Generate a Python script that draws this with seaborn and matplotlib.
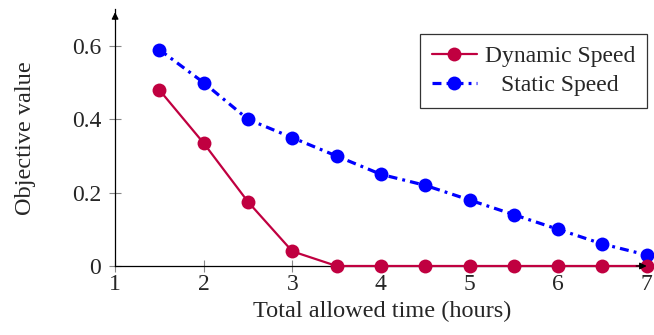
import matplotlib
matplotlib.use("Agg")
import matplotlib.pyplot as plt
import pandas as pd
import seaborn as sns
from matplotlib.offsetbox import DrawingArea

# data
time_hours = [1.5, 2.0, 2.5, 3.0, 3.5, 4.0, 4.5, 5.0, 5.5, 6.0, 6.5, 7.0]
dynamic_speed = [0.48, 0.335, 0.175, 0.04, 0, 0, 0, 0, 0, 0, 0, 0]
static_speed = [0.59, 0.50, 0.40, 0.35, 0.30, 0.25, 0.22, 0.18, 0.14, 0.10, 0.06, 0.03]
x_ticks = [1, 2, 3, 4, 5, 6, 7]
y_ticks = [0, 0.2, 0.4, 0.6]
y_tick_labels = ["0", "0.2", "0.4", "0.6"]

sns.set_style("white")
plt.rcParams["font.family"] = ["Liberation Serif", "DejaVu Serif"]
plt.rcParams["font.size"] = 17

df = pd.DataFrame({"time": time_hours, "dynamic": dynamic_speed, "static": static_speed})

fig = plt.figure(figsize=(6.54, 3.35), dpi=100)
ax = fig.add_axes([0.176, 0.206, 0.817, 0.766])

sns.lineplot(data=df, x="time", y="dynamic", ax=ax, color="#C00040", marker="o",
             markersize=10, markeredgewidth=0, linewidth=1.6, label="Dynamic Speed",
             clip_on=False, zorder=3)
sns.lineplot(data=df, x="time", y="static", ax=ax, color="#0000FF", marker="o",
             markersize=10, markeredgewidth=0, linewidth=2.3,
             linestyle=(0, (2.8, 1.6, 0.9, 1.6)),
             label="Static Speed", clip_on=False, zorder=2)

ax.set_xlim(1, 7.03)
ax.set_ylim(0, 0.70)
ax.set_xticks(x_ticks)
ax.set_yticks(y_ticks)
ax.set_yticklabels(y_tick_labels)
ax.tick_params(bottom=True, left=True, direction="inout", length=8, width=0.8,
               color="#888888", labelsize=17)
ax.tick_params(axis="x", pad=2)
ax.tick_params(axis="y", pad=6)

for side in ["top", "right"]:
    ax.spines[side].set_visible(False)
for side in ["left", "bottom"]:
    ax.spines[side].set_linewidth(0.9)
    ax.spines[side].set_color("black")

# arrow heads at axis ends
ax.annotate("", xy=(1.0, 0), xytext=(0.97, 0), xycoords="axes fraction",
            arrowprops=dict(arrowstyle="-|>", color="black", lw=0.9,
                            mutation_scale=10), annotation_clip=False)
ax.annotate("", xy=(0, 1.0), xytext=(0, 0.95), xycoords="axes fraction",
            arrowprops=dict(arrowstyle="-|>", color="black", lw=0.9,
                            mutation_scale=10), annotation_clip=False)

ax.set_xlabel("Total allowed time (hours)", fontsize=17.5, labelpad=4)
ax.set_ylabel("Objective value", fontsize=17.5, labelpad=26)

text_pad = 0.35
leg = ax.legend(loc="upper right", bbox_to_anchor=(0.996, 0.904), frameon=True,
                fancybox=False, edgecolor="black", fontsize=17, handlelength=1.9,
                handletextpad=text_pad, borderpad=0.5, borderaxespad=0,
                labelspacing=0.3)
leg.get_frame().set_linewidth(0.9)

# centre the legend labels in their column, like pgfplots does
renderer = fig.canvas.get_renderer()
widths = [t.get_window_extent(renderer).width * 72 / fig.dpi for t in leg.get_texts()]
sep = text_pad * 17
column = leg._legend_handle_box.get_children()[0]
for item, w in zip(column.get_children(), widths):
    gap = (max(widths) - w) / 2
    if gap > sep:
        item.get_children().insert(1, DrawingArea(gap - sep, 1))

fig.savefig("out.png", dpi=100)
